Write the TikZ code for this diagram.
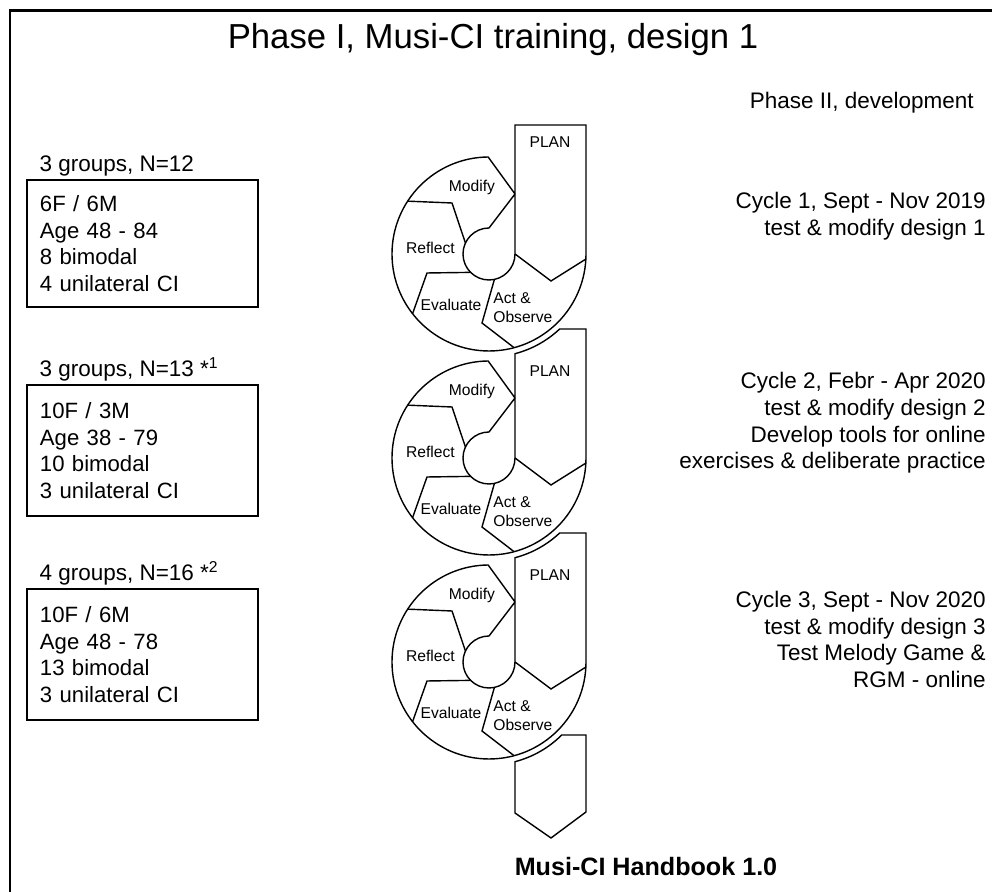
\documentclass[tikz,border=0pt]{standalone}
\usepackage{fontspec}
\setmainfont{Liberation Sans}
\usetikzlibrary{positioning}

\tikzset{
  cyc/.style={line width=0.8pt},
  lab/.style={inner sep=0pt, font=\fontsize{8.9}{10.8}\selectfont},
  txt/.style={inner sep=0pt, font=\fontsize{12.8}{15.2}\selectfont},
  grpbox/.style={draw, line width=0.9pt, rectangle, align=left, text width=116.7pt,
    inner xsep=7.4pt, inner ysep=0pt, font=\fontsize{12.6}{15.2}\selectfont},
}

\begin{document}
\begin{tikzpicture}[x=0.02cm,y=0.02cm,line join=miter]
  \useasboundingbox (0,0) rectangle (992,892);
  \clip (0,0) rectangle (992,892);
  \draw[line width=1.7pt] (10,-10) -- (10,881) -- (1002,881);

  \node[txt, font=\fontsize{19.75}{24}\selectfont] (head) at (493,852) {Phase I, Musi-CI training, design 1};
  \node[txt, anchor=east] (phase2) at (974,789) {Phase II, development};

  % the three cycles, plan -> act -> evaluate -> reflect -> modify
  \foreach \cy/\k in {638/1,434/2,230/3} {
    \begin{scope}[shift={(489,\cy)}]
      \ifnum\k=1
        \draw[cyc] (97,129) -- (97,0) arc[start angle=0, end angle=-269.5, radius=97]
          -- (26,60) -- (0,26) arc[start angle=90, end angle=360, radius=26]
          -- (26,129) -- cycle;
        \node[lab] (plan\k) at (61,112) {PLAN};
      \else
        \draw[cyc] (97,129) -- (97,0) arc[start angle=0, end angle=-269.5, radius=97]
          -- (26,60) -- (0,26) arc[start angle=90, end angle=360, radius=26]
          -- (26,104.3) arc[start angle=-75.4, end angle=-46.7, radius=103] -- cycle;
        \node[lab] (plan\k) at (61,87) {PLAN};
      \fi
      \draw[cyc] (0:26) -- (62,-27) -- (-3:97);
      \draw[cyc] (-78:26) -- (-7,-69) -- (-75:97);
      \draw[cyc] (-135:26) -- (-62,-19) -- (-142:97);
      \draw[cyc] (155:26) -- (-37,51) -- (147:97);
      \node[lab] (modify\k) at (-17,67) {Modify};
      \node[lab] (reflect\k) at (-58.5,6) {Reflect};
      \node[lab] (evaluate\k) at (-38,-51) {Evaluate};
      \node[lab, align=left, anchor=west] (act\k) at (4,-54) {Act \&\\Observe};
    \end{scope}
  }

  % arrow leaving the last cycle
  \begin{scope}[shift={(489,230)}]
    \draw[cyc] (26,-99.7) arc[start angle=-75.4, end angle=-45.1, radius=103]
      -- (97,-73) -- (97,-150) -- (62,-176) -- (26,-151) -- cycle;
  \end{scope}

  % participant groups
  \node[grpbox, minimum height=72.3pt] (b1) at (142.5,648.5) {6F / 6M\\Age 48 - 84\\8 bimodal\\4 unilateral CI};
  \node[grpbox, minimum height=74.5pt] (b2) at (142.5,441.5) {10F / 3M\\Age 38 - 79\\10 bimodal\\3 unilateral CI};
  \node[grpbox, minimum height=74.5pt] (b3) at (142.5,237.5) {10F / 6M\\Age 48 - 78\\13 bimodal\\3 unilateral CI};
  \node[txt, anchor=base west] (g1) at ([shift={(13,8)}]b1.north west) {3 groups, N=12};
  \node[txt, anchor=base west] (g2) at ([shift={(13,8)}]b2.north west) {3 groups, N=13 *\textsuperscript{1}};
  \node[txt, anchor=base west] (g3) at ([shift={(13,8)}]b3.north west) {4 groups, N=16 *\textsuperscript{2}};

  % development notes per cycle
  \node[txt, align=right, anchor=east] (c1) at (986,675.5) {Cycle 1, Sept - Nov 2019\\test \& modify design 1};
  \node[txt, align=right, anchor=east] (c2) at (986,469) {Cycle 2, Febr - Apr 2020\\test \& modify design 2\\Develop tools for online\\exercises \& deliberate practice};
  \node[txt, align=right, anchor=east] (c3) at (986,252.5) {Cycle 3, Sept - Nov 2020\\test \& modify design 3\\Test Melody Game \&\\RGM - online};

  \node[txt, font=\bfseries\fontsize{14.3}{17}\selectfont] (book) at (646,25) {Musi-CI Handbook 1.0};
\end{tikzpicture}
\end{document}
